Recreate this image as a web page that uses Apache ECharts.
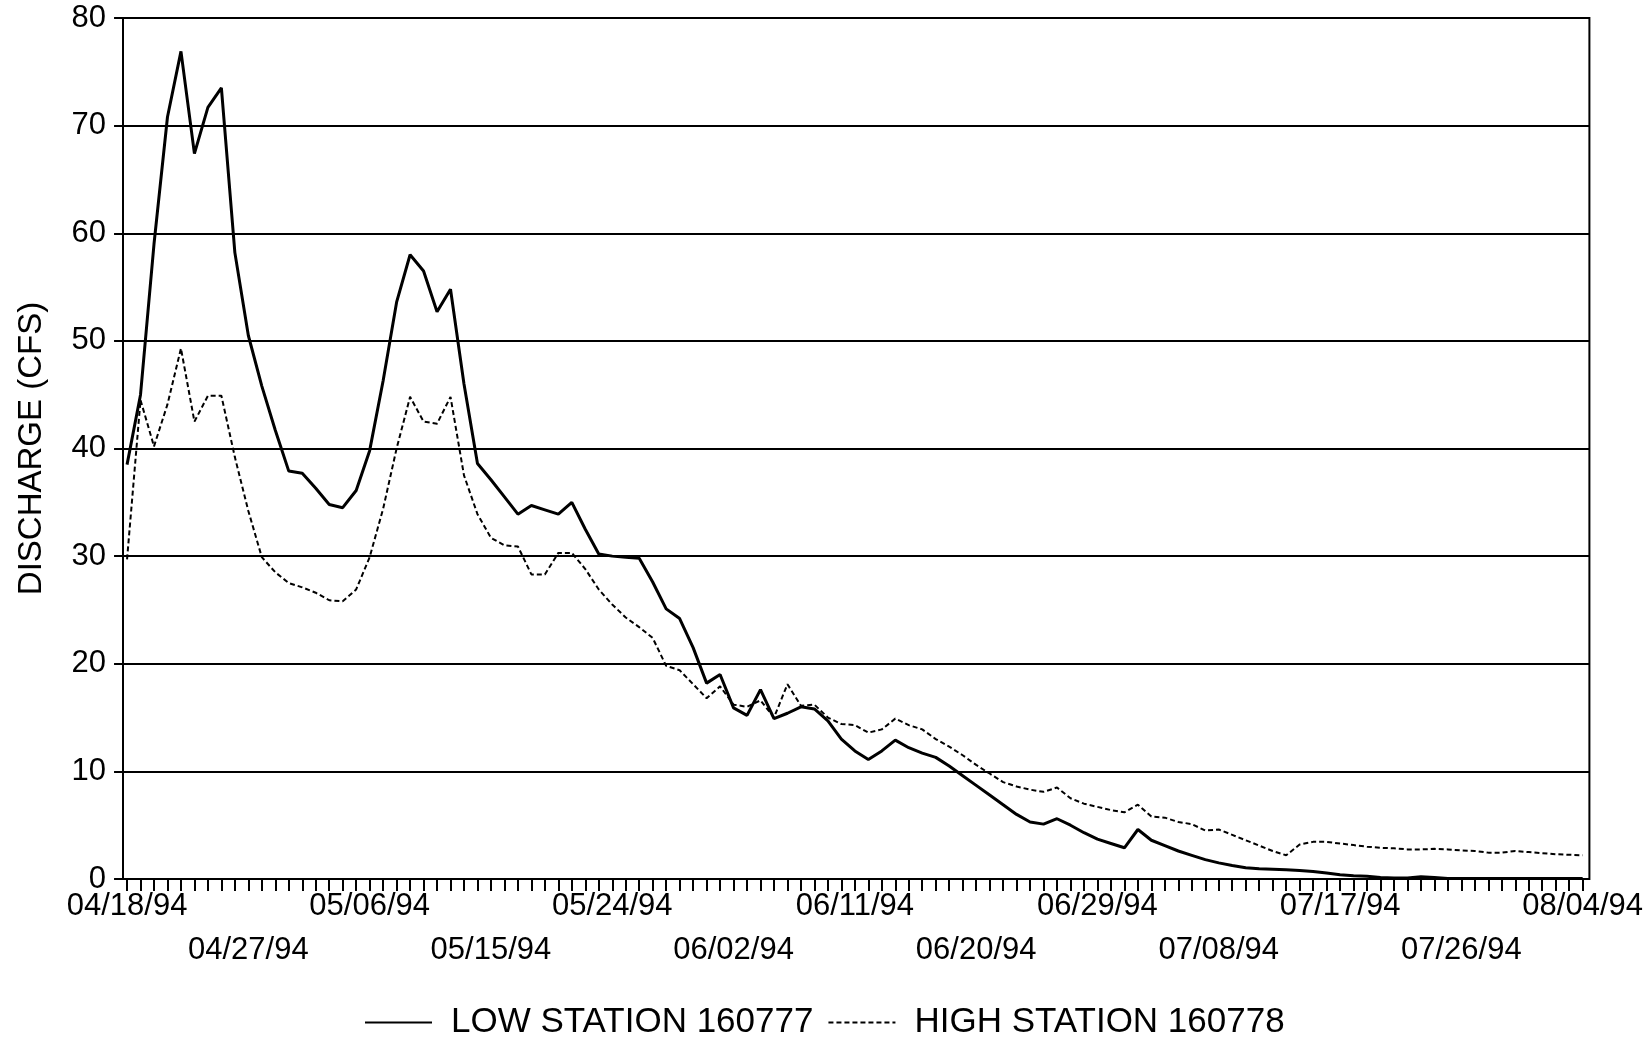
<!DOCTYPE html>
<html>
<head>
<meta charset="utf-8">
<title>Discharge</title>
<script src="https://cdn.jsdelivr.net/npm/echarts@6/dist/echarts.min.js"></script>
<style>
  html, body { margin: 0; padding: 0; background: #fff; }
  #chart { width: 1646px; height: 1042px; }
</style>
</head>
<body>
<div id="chart"></div>
<script>
// tick labels, one every 9 days from 04/18/94
var dateLabels = ['04/18/94', '04/27/94', '05/06/94', '05/15/94', '05/24/94', '06/02/94',
  '06/11/94', '06/20/94', '06/29/94', '07/08/94', '07/17/94', '07/26/94', '08/04/94'];
var labelStep = 9;

// daily discharge (cfs), 04/18/94 .. 08/04/94
var lowStation = [
  38.5, 45, 59, 70.8, 76.9, 67.4, 71.7, 73.5, 58.2, 50.5,
  45.8, 41.7, 37.9, 37.7, 36.3, 34.8, 34.5, 36.1, 39.8, 46.3,
  53.6, 58.0, 56.5, 52.7, 54.8, 46.0, 38.6, 37.1, 35.5, 33.9,
  34.7, 34.3, 33.9, 35.0, 32.5, 30.2, 30.0, 29.9, 29.8, 27.6,
  25.1, 24.2, 21.5, 18.2, 19.0, 15.9, 15.2, 17.6, 14.9, 15.4,
  16.0, 15.8, 14.7, 13.0, 11.9, 11.1, 11.9, 12.9, 12.2, 11.7,
  11.3, 10.5, 9.6, 8.7, 7.8, 6.9, 6.0, 5.3, 5.1, 5.6,
  5.0, 4.3, 3.7, 3.3, 2.9, 4.6, 3.6, 3.1, 2.6, 2.2,
  1.8, 1.5, 1.25, 1.05, 0.95, 0.9, 0.85, 0.8, 0.7, 0.55,
  0.4, 0.3, 0.25, 0.15, 0.1, 0.1, 0.2, 0.15, 0.05, 0.05,
  0.05, 0.05, 0.05, 0.05, 0.05, 0.05, 0.05, 0.05, 0.05
];
var highStation = [
  29.7, 44.5, 40.2, 44.1, 49.3, 42.5, 44.9, 44.9, 39.2, 34.2,
  29.9, 28.5, 27.5, 27.1, 26.6, 25.9, 25.8, 26.9, 29.9, 34.4,
  40.0, 44.8, 42.5, 42.3, 44.8, 37.5, 33.9, 31.7, 31.0, 30.9,
  28.3, 28.3, 30.3, 30.3, 28.8, 26.9, 25.5, 24.3, 23.4, 22.4,
  19.8, 19.4, 18.1, 16.8, 17.9, 16.2, 16.0, 16.6, 15.0, 18.1,
  16.1, 16.2, 15.0, 14.4, 14.3, 13.6, 13.9, 14.9, 14.3, 13.9,
  13.0, 12.3, 11.5, 10.6, 9.8, 9.0, 8.6, 8.3, 8.1, 8.5,
  7.5, 7.0, 6.7, 6.4, 6.2, 6.9, 5.8, 5.7, 5.3, 5.1,
  4.5, 4.6, 4.1, 3.6, 3.1, 2.6, 2.2, 3.2, 3.45, 3.45,
  3.3, 3.15, 3.0, 2.9, 2.85, 2.75, 2.75, 2.8, 2.75, 2.65,
  2.6, 2.45, 2.45, 2.6, 2.5, 2.4, 2.3, 2.25, 2.2
];

var font = 'Liberation Sans, Arial, sans-serif';

// x is the day number since 04/18/94
var tickDays = lowStation.map(function (v, i) { return i; });
var labelDays = dateLabels.map(function (s, i) { return i * labelStep; });

function toPoints(arr) {
  return arr.map(function (v, i) { return [i, v]; });
}

var chart = echarts.init(document.getElementById('chart'));
chart.setOption({
  backgroundColor: '#fff',
  animation: false,
  grid: {
    left: 123,
    right: 56,
    top: 18,
    bottom: 163,
    show: true,
    borderColor: '#000',
    borderWidth: 2
  },
  legend: {
    left: 359,
    top: 1000,
    itemWidth: 67,
    itemHeight: 20,
    itemGap: 14,
    itemStyle: { opacity: 0 },
    textStyle: { color: '#000', fontSize: 35, fontFamily: font, padding: [0, 0, 0, 14] },
    data: ['LOW STATION 160777', 'HIGH STATION 160778']
  },
  xAxis: {
    type: 'value',
    min: -0.3,
    max: 108.5,
    axisLine: { show: false },
    axisTick: { show: true, length: 12, customValues: tickDays, lineStyle: { color: '#000', width: 2 } },
    axisLabel: {
      customValues: labelDays,
      hideOverlap: false,
      margin: 5,
      color: '#000',
      fontSize: 31,
      fontFamily: font,
      lineHeight: 44,
      formatter: function (v) {
        var k = Math.round(v / labelStep);
        // every other label goes on the second row
        return k % 2 ? '\n' + dateLabels[k] : dateLabels[k];
      }
    },
    splitLine: { show: false }
  },
  yAxis: {
    type: 'value',
    min: 0,
    max: 80,
    interval: 10,
    name: 'DISCHARGE (CFS)',
    nameLocation: 'middle',
    nameGap: 75,
    nameTextStyle: { color: '#000', fontSize: 33, fontFamily: font },
    axisLine: { show: false },
    axisTick: { show: true, length: 13, lineStyle: { color: '#000', width: 2 } },
    axisLabel: { margin: 17, color: '#000', fontSize: 31, fontFamily: font },
    splitLine: { show: true, lineStyle: { color: '#000', width: 2 } }
  },
  series: [
    {
      name: 'LOW STATION 160777',
      type: 'line',
      symbol: 'none',
      data: toPoints(lowStation),
      lineStyle: { color: '#000', width: 3 },
      itemStyle: { color: '#000' }
    },
    {
      name: 'HIGH STATION 160778',
      type: 'line',
      symbol: 'none',
      data: toPoints(highStation),
      lineStyle: { color: '#000', width: 2, type: [5, 3] },
      itemStyle: { color: '#000' }
    }
  ]
});
</script>
</body>
</html>
